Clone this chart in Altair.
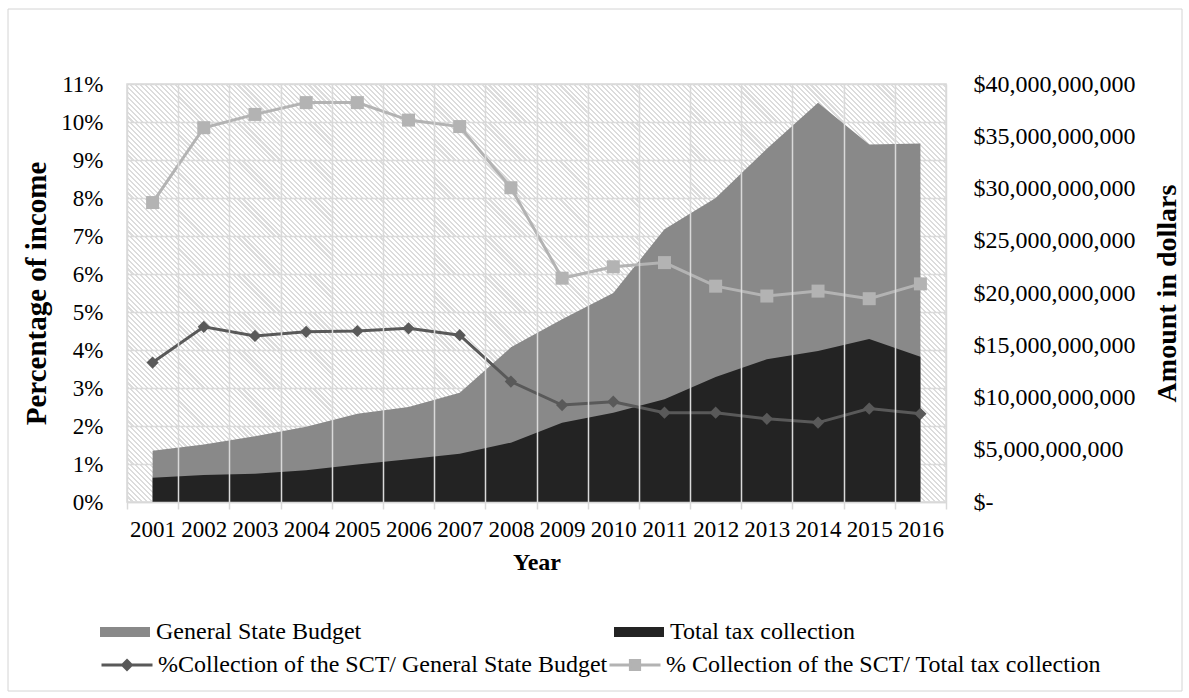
import altair as alt
import pandas as pd

# ---------------- data ----------------
years = [str(y) for y in range(2001, 2017)]
area_names = ["General State Budget", "Total tax collection"]
line_names = ["%Collection of the SCT/ General State Budget",
              "% Collection of the SCT/ Total tax collection"]

budget = [4.9e9, 5.5e9, 6.3e9, 7.2e9, 8.45e9, 9.1e9, 10.45e9, 14.8e9,
          17.5e9, 20.0e9, 26.1e9, 29.1e9, 33.8e9, 38.2e9, 34.2e9, 34.3e9]
tax = [2.33e9, 2.58e9, 2.71e9, 3.03e9, 3.6e9, 4.08e9, 4.62e9, 5.68e9,
       7.59e9, 8.55e9, 9.83e9, 11.96e9, 13.65e9, 14.45e9, 15.6e9, 13.9e9]
pct_budget = [3.67, 4.61, 4.37, 4.48, 4.50, 4.57, 4.39, 3.17,
              2.55, 2.64, 2.35, 2.35, 2.19, 2.09, 2.46, 2.32]
pct_tax = [7.88, 9.85, 10.2, 10.51, 10.51, 10.05, 9.88, 8.27,
           5.89, 6.19, 6.30, 5.68, 5.42, 5.55, 5.35, 5.74]

pct_ticks = [i / 100 for i in range(12)]
usd_ticks = [i * 5e9 for i in range(9)]

# ---------------- tables ----------------
df_area = pd.DataFrame({
    "year": years * 2,
    "series": [area_names[0]] * len(years) + [area_names[1]] * len(years),
    "amount": budget + tax,
})
df_line = pd.DataFrame({
    "year": years * 2,
    "series": [line_names[0]] * len(years) + [line_names[1]] * len(years),
    "pct": [v / 100 for v in pct_budget] + [v / 100 for v in pct_tax],
})
# background cells (one per grid cell) that carry the hatch pattern
df_bg = pd.DataFrame([{"year": yv, "lo": pct_ticks[i], "hi": pct_ticks[i + 1]}
                      for yv in years for i in range(len(pct_ticks) - 1)])

# ---------------- style ----------------
W, H = 819, 418
FONT = "Liberation Serif"
GRID = "#d9d9d9"
C_BUDGET, C_TAX = "#898989", "#232323"
C_LDARK, C_LLIGHT = "#595959", "#b3b3b3"

# diagonal "\" hatch inside one grid cell (transparent gaps so grid shows)
cw = W / len(years)
ch = H / (len(pct_ticks) - 1)
P = 5.0
n_per = int(round((cw + ch) / P))
L = cw + ch
den = cw * cw + ch * ch
dx = L * cw / den
dy = -L * ch / den
stops = []
for k in range(n_per):
    o0 = k / n_per
    o1 = (k + 0.42) / n_per
    o2 = (k + 1) / n_per
    stops += [alt.GradientStop(offset=o0, color="#dcdcdc"),
              alt.GradientStop(offset=o1, color="#dcdcdc"),
              alt.GradientStop(offset=o1, color="rgba(255,255,255,0)"),
              alt.GradientStop(offset=o2, color="rgba(255,255,255,0)")]
hatch = alt.LinearGradient(gradient="linear", stops=stops,
                           x1=0, y1=1, x2=dx, y2=1 + dy)

x_scale = alt.Scale(type="band", paddingInner=0, paddingOuter=0)
x_axis = alt.Axis(title="Year", labelAngle=0, tickBand="extent",
                  grid=True, gridColor=GRID, gridWidth=1.5,
                  domain=True, domainColor=GRID, domainWidth=1.5,
                  ticks=True, tickColor=GRID, tickWidth=1.5, tickSize=7,
                  labelFontSize=23, labelColor="black", labelPadding=9,
                  titleFontSize=24, titleFontWeight="bold", titleColor="black",
                  titlePadding=9)
x_enc = alt.X("year:O", bandPosition=0.5, scale=x_scale, axis=x_axis)

bg = alt.Chart(df_bg).mark_rect(fill=hatch, strokeWidth=0).encode(
    x=alt.X("year:O", scale=x_scale, axis=x_axis),
    y=alt.Y("lo:Q", scale=alt.Scale(domain=[0, 0.11], nice=False), axis=None),
    y2="hi:Q",
)

one = pd.DataFrame({"k": [0]})
border = alt.Chart(one).mark_rect(fillOpacity=0, stroke="#d4d4d4", strokeWidth=1).encode(
    x=alt.value(-119), x2=alt.value(W + 236), y=alt.value(-75), y2=alt.value(H + 189))

right_axis = alt.Axis(orient="right", values=usd_ticks,
                      labelExpr="datum.value === 0 ? '$-' : '$' + format(datum.value, ',')",
                      grid=False, domain=False, ticks=False,
                      labelFontSize=24, labelColor="black", labelPadding=27, labelLimit=400,
                      title="Amount in dollars", titleAngle=270, titleBaseline="top",
                      titleFontSize=28, titleFontWeight="bold", titleColor="black",
                      titlePadding=18)
left_axis = alt.Axis(orient="left", values=pct_ticks, format=".0%",
                     grid=True, gridColor=GRID, gridWidth=1.5,
                     domain=False, ticks=False,
                     labelFontSize=23, labelColor="black", labelPadding=24,
                     title="Percentage of income", titleFontSize=29,
                     titleFontWeight="bold", titleColor="black", titlePadding=9)

legend_area = alt.Legend(orient="none", legendX=-27, legendY=523, direction="horizontal",
                         title=None, symbolType="M-1,-0.2H1V0.2H-1Z", symbolSize=2500,
                         symbolStrokeWidth=0, symbolOpacity=1,
                         labelFontSize=24, labelColor="black", labelOffset=6,
                         labelLimit=700, columnPadding=252)

shape_expr = ("datum.value === '" + line_names[0] + "' ? "
              "'M-1,0H1M0,-0.17L0.17,0L0,0.17L-0.17,0Z' : "
              "'M-1,0H1M-0.18,-0.18H0.18V0.18H-0.18Z'")
fill_expr = ("datum.value === '" + line_names[0] + "' ? '" + C_LDARK + "' : '" + C_LLIGHT + "'")
legend_line = alt.Legend(orient="none", legendX=-27, legendY=554, direction="horizontal",
                         title=None, symbolSize=2601, symbolStrokeWidth=3, symbolOpacity=1,
                         symbolType=alt.ExprRef(expr=shape_expr),
                         symbolFillColor=alt.ExprRef(expr=fill_expr),
                         labelFontSize=24, labelColor="black", labelOffset=4,
                         labelLimit=700, columnPadding=-25)

area_base = alt.Chart(df_area).encode(
    x=x_enc,
    y=alt.Y("amount:Q", stack=None, scale=alt.Scale(domain=[0, 40e9], nice=False),
            axis=right_axis),
    fill=alt.Fill("series:N", scale=alt.Scale(domain=area_names, range=[C_BUDGET, C_TAX]),
                  legend=legend_area),
)
area_budget = area_base.transform_filter(alt.datum.series == area_names[0]).mark_area(opacity=1)
area_tax = area_base.transform_filter(alt.datum.series == area_names[1]).mark_area(opacity=1)
areas = alt.layer(area_budget, area_tax)

line_base = alt.Chart(df_line).encode(
    x=x_enc,
    y=alt.Y("pct:Q", scale=alt.Scale(domain=[0, 0.11], nice=False), axis=left_axis),
)
lines = line_base.mark_line(strokeWidth=3).encode(
    stroke=alt.Stroke("series:N", scale=alt.Scale(domain=line_names, range=[C_LDARK, C_LLIGHT]),
                      legend=legend_line))
pts_dark = line_base.transform_filter(alt.datum.series == line_names[0]).mark_point(
    filled=True, opacity=1, shape="diamond", size=150, color=C_LDARK)
pts_light = line_base.transform_filter(alt.datum.series == line_names[1]).mark_point(
    filled=True, opacity=1, shape="square", size=169, color=C_LLIGHT)
line_layer = alt.layer(lines, pts_dark, pts_light)

chart = alt.layer(bg, border, areas, line_layer).resolve_scale(
    y="independent"
).properties(
    width=W, height=H,
    padding={"left": 7, "top": 8, "right": 0, "bottom": 0},
    background="white",
).configure(font=FONT).configure_view(stroke=GRID, strokeWidth=1.5)

chart.save("out.html", embed_options={"renderer": "svg", "actions": False})
